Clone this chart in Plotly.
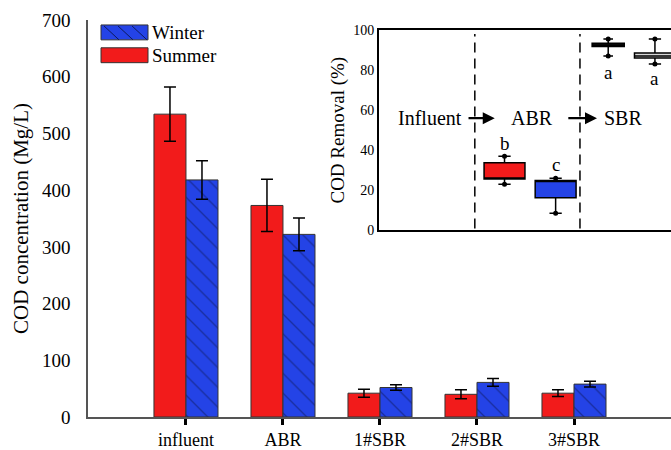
import plotly.graph_objects as go

# ---- data ----
categories = ["influent", "ABR", "1#SBR", "2#SBR", "3#SBR"]
summer_cod = [534, 373, 42, 40, 42]
summer_err = [48, 46, 7, 8, 6]
winter_cod = [418, 322, 52, 61, 58]
winter_err = [34, 29, 5, 7, 5]

# inset box statistics (COD removal %)
box_names = ["ABR summer", "ABR winter", "SBR summer", "SBR winter"]
box_lower = [23, 8.5, 87, 83]
box_q1 = [25.7, 16.3, 91.7, 86]
box_median = [26.0, 24.5, 92.5, 87]
box_q3 = [33.7, 24.9, 93.3, 88.5]
box_upper = [37, 26, 95.5, 95.5]
box_letters = ["b", "c", "a", "a"]
stage_labels = ["Influent", "ABR", "SBR"]
legend_labels = ["Winter", "Summer"]

# ---- layout constants ----
FONT = "Liberation Serif"
RED = "#f21b1b"
BLUE = "#2443e6"
HATCH = "#0d1a5c"
box_pos = [2.58, 3.63, 4.71, 5.67]
box_w = [0.84, 0.84, 0.66, 0.84]
box_fill = [RED, BLUE, "#222222", "#d8d8d8"]
letter_y = [43.5, 33, 79, 76]
stage_x = [1.05, 3.14, 5.01]
divider_x = [1.97, 4.13]


def px_x(p):
    return (p - 88) / 583.0


def px_y(p):
    return (420 - p) / 400.0


fig = go.Figure()
fig.add_trace(go.Bar(
    name="Summer", x=categories, y=summer_cod, showlegend=False,
    marker=dict(color=RED, line=dict(color="#333333", width=1)),
    error_y=dict(type="data", array=summer_err, color="black", thickness=1.5, width=6),
))
fig.add_trace(go.Bar(
    name="Winter", x=categories, y=winter_cod, showlegend=False,
    marker=dict(color=BLUE, line=dict(color="#333333", width=1),
                pattern=dict(shape="\\", fgcolor=HATCH, bgcolor=BLUE, size=14, solidity=0.1)),
    error_y=dict(type="data", array=winter_err, color="black", thickness=1.5, width=6),
))

for i, nm in enumerate(box_names):
    fig.add_trace(go.Box(
        x=[box_pos[i]], q1=[box_q1[i]], median=[box_median[i]], q3=[box_q3[i]],
        lowerfence=[box_lower[i]], upperfence=[box_upper[i]],
        width=box_w[i], fillcolor=box_fill[i], whiskerwidth=0.3,
        line=dict(color="black", width=1.5),
        xaxis="x2", yaxis="y2", showlegend=False, name=nm, boxpoints=False,
    ))
    fig.add_trace(go.Scatter(
        x=[box_pos[i], box_pos[i]], y=[box_lower[i], box_upper[i]], mode="markers",
        marker=dict(color="black", size=5), xaxis="x2", yaxis="y2", showlegend=False,
        hoverinfo="skip",
    ))

annotations = []
for i, t in enumerate(box_letters):
    annotations.append(dict(x=box_pos[i], y=letter_y[i], xref="x2", yref="y2", text=t,
                            showarrow=False, font=dict(family=FONT, size=19, color="black")))
for i, t in enumerate(stage_labels):
    annotations.append(dict(x=stage_x[i], y=56, xref="x2", yref="y2", text=t,
                            showarrow=False, font=dict(family=FONT, size=20, color="black")))
for (x0, x1) in [(1.81, 2.38), (3.86, 4.48)]:
    annotations.append(dict(x=x1, y=56, ax=x0, ay=56, xref="x2", yref="y2", axref="x2", ayref="y2",
                            text="", showarrow=True, arrowhead=2, arrowsize=1, arrowwidth=2.4,
                            arrowcolor="black"))

shapes = []
for dx in divider_x:
    shapes.append(dict(type="line", xref="x2", yref="y2", x0=dx, x1=dx, y0=1, y1=98,
                       line=dict(color="black", width=1.5, dash="10px,6px")))

# legend (drawn manually to match the wide swatches)
legend_fill = [BLUE, RED]
legend_top = [25, 48]
for i, lab in enumerate(legend_labels):
    y0, y1 = px_y(legend_top[i] + 15), px_y(legend_top[i])
    shapes.append(dict(type="rect", xref="paper", yref="paper", x0=px_x(101), x1=px_x(148),
                       y0=y0, y1=y1, fillcolor=legend_fill[i], line=dict(color="#333333", width=1)))
    if i == 0:
        for hx in [104, 118, 132]:
            shapes.append(dict(type="line", xref="paper", yref="paper",
                               x0=px_x(hx), x1=px_x(min(hx + 15, 148)),
                               y0=px_y(legend_top[i] + 1), y1=px_y(legend_top[i] + 1 + min(15, 148 - hx) - 1),
                               line=dict(color=HATCH, width=1)))
    annotations.append(dict(x=px_x(150), y=(y0 + y1) / 2, xref="paper", yref="paper", text=lab,
                            xanchor="left", yanchor="middle", showarrow=False,
                            font=dict(family=FONT, size=19, color="black")))

fig.update_layout(
    width=671, height=450,
    margin=dict(l=88, r=0, t=20, b=30),
    paper_bgcolor="white", plot_bgcolor="white",
    font=dict(family=FONT, color="black"),
    barmode="group", bargap=0.34, bargroupgap=0,
    showlegend=False,
    xaxis=dict(range=[-1.01, 5.0], showline=True, linecolor="#555555", linewidth=1.5,
               ticks="outside", ticklen=6, tickwidth=2.5, tickcolor="black",
               tickfont=dict(family=FONT, size=18), showgrid=False, zeroline=False),
    yaxis=dict(range=[0, 700], dtick=100, showline=True, linecolor="#555555", linewidth=1.5,
               ticks="", showgrid=False, zeroline=False, ticklabelstandoff=12,
               tickfont=dict(family=FONT, size=19),
               title=dict(text="COD concentration (Mg/L)", font=dict(family=FONT, size=21), standoff=8)),
    xaxis2=dict(domain=[0.499, 1.0], anchor="y2", range=[0, 6], showticklabels=False, ticks="",
                showline=True, mirror=True, linecolor="black", linewidth=1.5,
                showgrid=False, zeroline=False),
    yaxis2=dict(domain=[0.47, 0.975], anchor="x2", range=[0, 100], dtick=20, showline=True,
                linecolor="black", linewidth=1.5, ticks="", showgrid=False, zeroline=False,
                tickfont=dict(family=FONT, size=14),
                title=dict(text="COD Removal (%)", font=dict(family=FONT, size=19), standoff=4)),
    annotations=annotations, shapes=shapes,
)

fig.write_html("out.html", config={"displayModeBar": False})
with open("out.html", "r", encoding="utf-8") as f:
    html = f.read()
html = html.replace("<head>", "<head><style>html,body{margin:0;padding:0;overflow:hidden;}</style>", 1)
with open("out.html", "w", encoding="utf-8") as f:
    f.write(html)
